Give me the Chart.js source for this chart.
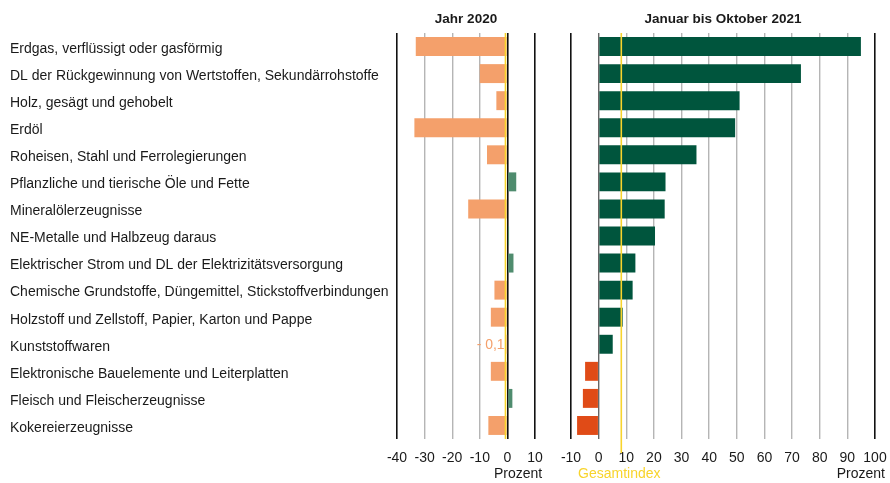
<!DOCTYPE html>
<html>
<head>
<meta charset="utf-8">
<script src="https://cdn.jsdelivr.net/npm/chart.js@4"></script>
<style>
  body { margin: 0; background: #fff; }
  #wrap { position: relative; width: 890px; height: 483px; }
  canvas { position: absolute; top: 0; }
  #links { left: 0; }
  #rechts { left: 545px; }
</style>
</head>
<body>
<div id="wrap">
  <canvas id="links" width="545" height="483"></canvas>
  <canvas id="rechts" width="345" height="483"></canvas>
</div>
<script>
var kategorien = [
    'Erdgas, verflüssigt oder gasförmig',
    'DL der Rückgewinnung von Wertstoffen, Sekundärrohstoffe',
    'Holz, gesägt und gehobelt',
    'Erdöl',
    'Roheisen, Stahl und Ferrolegierungen',
    'Pflanzliche und tierische Öle und Fette',
    'Mineralölerzeugnisse',
    'NE-Metalle und Halbzeug daraus',
    'Elektrischer Strom und DL der Elektrizitätsversorgung',
    'Chemische Grundstoffe, Düngemittel, Stickstoffverbindungen',
    'Holzstoff und Zellstoff, Papier, Karton und Pappe',
    'Kunststoffwaren',
    'Elektronische Bauelemente und Leiterplatten',
    'Fleisch und Fleischerzeugnisse',
    'Kokereierzeugnisse'
];
var jahr2020 = [-33.2, -10.0, -4.0, -33.7, -7.4, 3.2, -14.2, 0.6, 2.2, -4.7, -6.0, -0.1, -6.0, 1.8, -6.9];
var janOkt2021 = [94.9, 73.2, 51.0, 49.4, 35.4, 24.2, 23.9, 20.4, 13.3, 12.3, 8.7, 5.1, -4.9, -5.7, -7.8];
var gesamt2020 = -0.7;
var gesamt2021 = 8.2;
var ticksLinks = [-40, -30, -20, -10, 0, 10];
var ticksRechts = [-10, 0, 10, 20, 30, 40, 50, 60, 70, 80, 90, 100];

var schrift = '"Liberation Sans", Arial, sans-serif';
var gelb = '#f8d42c';
Chart.defaults.font.family = schrift;
Chart.defaults.font.size = 14;
Chart.defaults.color = '#1a1a1a';

// extra texts and the yellow Gesamtindex line
function extras(titel, gesamt, linieBis, texte) {
    return {
        id: 'extras',
        afterDatasetsDraw: function (chart) {
            var c = chart.ctx, a = chart.chartArea;
            var x = chart.scales.x.getPixelForValue(gesamt);
            c.save();
            c.strokeStyle = gelb;
            c.lineWidth = 1.6;
            c.beginPath();
            c.moveTo(x, a.top);
            c.lineTo(x, linieBis);
            c.stroke();
            c.restore();
        },
        afterDraw: function (chart) {
            var c = chart.ctx, a = chart.chartArea;
            c.save();
            c.fillStyle = '#1a1a1a';
            c.font = 'bold 13.5px ' + schrift;
            c.textAlign = 'center';
            c.textBaseline = 'middle';
            c.fillText(titel, (a.left + a.right) / 2, 19);
            c.font = '14px ' + schrift;
            texte(chart, c);
            c.restore();
        }
    };
}

function gitterFarbe(schwarz, dunkel) {
    return function (ctx) {
        var v = ctx.tick ? ctx.tick.value : null;
        if (schwarz.indexOf(v) >= 0) return '#111';
        if (v === dunkel) return '#666';
        return '#b5b5b5';
    };
}
function gitterBreite(schwarz) {
    return function (ctx) {
        var v = ctx.tick ? ctx.tick.value : null;
        return schwarz.indexOf(v) >= 0 ? 1.6 : 1.4;
    };
}
// x axis: fixed height, no extra side padding for the outer tick labels
function xFit(s) {
    s.height = 44;
    s.paddingLeft = 0;
    s.paddingRight = 0;
}

new Chart(document.getElementById('links'), {
    type: 'bar',
    data: {
        labels: kategorien,
        datasets: [{
            data: jahr2020,
            backgroundColor: jahr2020.map(function (v) { return v < 0 ? '#f4a06b' : '#4f8c6e'; }),
            categoryPercentage: 1,
            barPercentage: 0.7
        }]
    },
    options: {
        indexAxis: 'y',
        responsive: false,
        animation: false,
        layout: { padding: { left: 10, right: 10, top: 33, bottom: 0 } },
        plugins: { legend: { display: false }, tooltip: { enabled: false } },
        scales: {
            x: {
                min: ticksLinks[0],
                max: ticksLinks[ticksLinks.length - 1],
                afterBuildTicks: function (s) { s.ticks = ticksLinks.map(function (v) { return { value: v }; }); },
                afterFit: xFit,
                border: { display: false },
                grid: { color: gitterFarbe([-40, 0, 10], null), lineWidth: gitterBreite([-40, 0, 10]), drawTicks: false },
                ticks: { padding: 11, maxRotation: 0, minRotation: 0, autoSkip: false, color: '#1a1a1a' }
            },
            y: {
                afterFit: function (s) { s.width = 387; s.paddingTop = 0; s.paddingBottom = 0; },
                border: { display: false },
                grid: { display: false },
                ticks: { crossAlign: 'far', labelOffset: 2.5, color: '#1a1a1a' }
            }
        }
    },
    plugins: [extras('Jahr 2020', gesamt2020, 439, function (chart, c) {
        c.fillText('Prozent', 518, 474);
        var i = jahr2020.indexOf(-0.1);
        var y = chart.scales.y.getPixelForValue(i) + 1;
        c.fillStyle = '#f4a06b';
        c.textAlign = 'right';
        c.fillText('- 0,1', chart.scales.x.getPixelForValue(-1), y);
    })]
});

new Chart(document.getElementById('rechts'), {
    type: 'bar',
    data: {
        labels: kategorien,
        datasets: [{
            data: janOkt2021,
            backgroundColor: janOkt2021.map(function (v) { return v < 0 ? '#e04b17' : '#00553d'; }),
            categoryPercentage: 1,
            barPercentage: 0.7
        }]
    },
    options: {
        indexAxis: 'y',
        responsive: false,
        animation: false,
        layout: { padding: { left: 26, right: 15, top: 33, bottom: 0 } },
        plugins: { legend: { display: false }, tooltip: { enabled: false } },
        scales: {
            x: {
                min: ticksRechts[0],
                max: ticksRechts[ticksRechts.length - 1],
                afterBuildTicks: function (s) { s.ticks = ticksRechts.map(function (v) { return { value: v }; }); },
                afterFit: xFit,
                border: { display: false },
                grid: { color: gitterFarbe([-10, 100], 0), lineWidth: gitterBreite([-10, 100]), drawTicks: false },
                ticks: { padding: 11, maxRotation: 0, minRotation: 0, autoSkip: false, color: '#1a1a1a' }
            },
            y: { display: false }
        }
    },
    plugins: [extras('Januar bis Oktober 2021', gesamt2021, 453, function (chart, c) {
        c.textAlign = 'right';
        c.fillText('Prozent', 885 - 545, 474);
        c.textAlign = 'center';
        c.fillStyle = gelb;
        c.fillText('Gesamtindex', chart.scales.x.getPixelForValue(gesamt2021) - 2, 474);
    })]
});
</script>
</body>
</html>
